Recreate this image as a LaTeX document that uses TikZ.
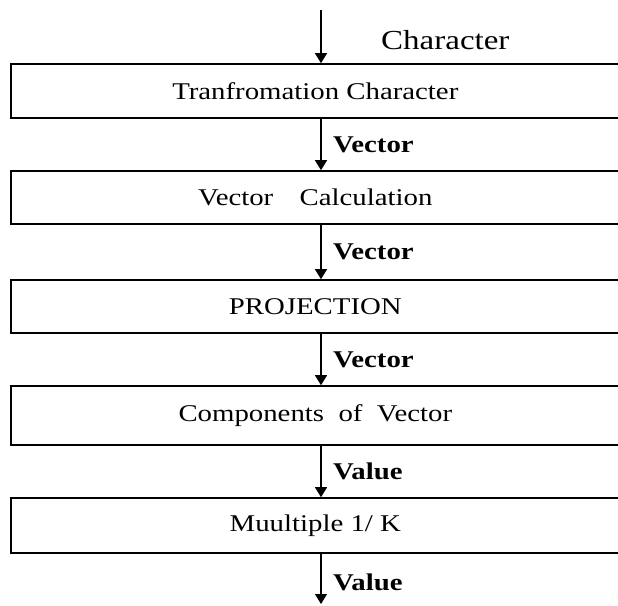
\documentclass[tikz,border=0pt]{standalone}
\usepackage{fontspec}
\setmainfont[FakeStretch=1.2]{Liberation Serif}
\usetikzlibrary{arrows.meta}
\begin{document}
\begin{tikzpicture}[x=1pt,y=1pt,
  box/.style={draw, line width=1.6pt, minimum width=609pt, inner sep=0pt, font=\fontsize{24}{28}\selectfont, anchor=west},
  flow/.style={line width=1.3pt, -{Triangle[width=12pt,length=10pt]}},
  lab/.style={anchor=west, inner sep=0pt, font=\fontsize{24}{28}\selectfont\bfseries},
  toplab/.style={anchor=west, inner sep=0pt, font=\fontsize{27.5}{31}\selectfont}]
\useasboundingbox (0,0) rectangle (618,605);
\node[box, minimum height=54pt] (b1) at (10,514) {Tranfromation Character};
\node[box, minimum height=53pt] (b2) at (10,407.5) {Vector\hspace{0.8em} Calculation};
\node[box, minimum height=53pt] (b3) at (10,298.5) {PROJECTION};
\node[box, minimum height=59pt] (b4) at (10,189.5) {Components\hspace{0.3em} of\hspace{0.3em} Vector};
\node[box, minimum height=55pt] (b5) at (10,79.5) {Muultiple 1/ K};
\coordinate (in) at (321,595);
\coordinate (out) at (321,1);
\draw[flow] (in) -- (in |- b1.north);
\draw[flow] (in |- b1.south) -- (in |- b2.north);
\draw[flow] (in |- b2.south) -- (in |- b3.north);
\draw[flow] (in |- b3.south) -- (in |- b4.north);
\draw[flow] (in |- b4.south) -- (in |- b5.north);
\draw[flow] (in |- b5.south) -- (out);
\node[toplab] (l0) at (381,565) {Character};
\node[lab] (l1) at (333,460.5) {Vector};
\node[lab] (l2) at (333,353) {Vector};
\node[lab] (l3) at (333,245.5) {Vector};
\node[lab] (l4) at (333,133.5) {Value};
\node[lab] (l5) at (333,23) {Value};
\end{tikzpicture}
\end{document}
